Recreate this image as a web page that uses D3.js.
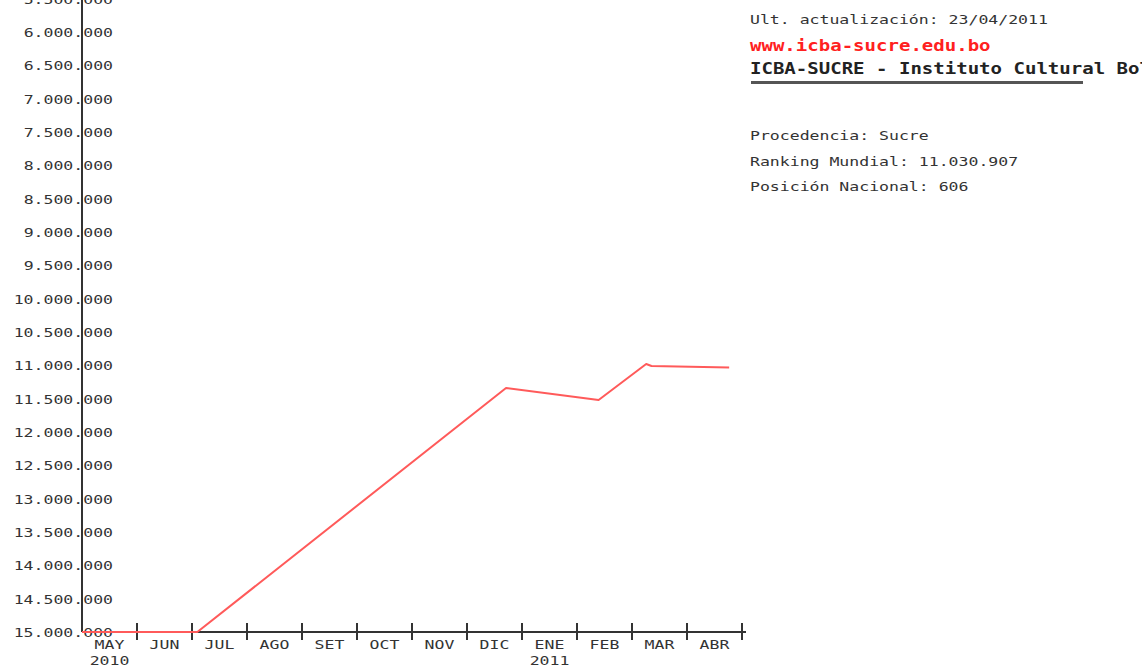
<!DOCTYPE html>
<html>
<head>
<meta charset="utf-8">
<script src="https://cdn.jsdelivr.net/npm/d3@7"></script>
<style>
  body { margin: 0; background: #fff; }
  svg { display: block; }
  text { font-family: "DejaVu Sans Mono", "Liberation Mono", monospace; }
</style>
</head>
<body>
<div id="chart"></div>
<script>
// ranking history, world position (lower is better, axis inverted)
const dates = ["2010-05-01", "2010-07-04", "2010-12-23", "2011-02-12", "2011-03-09", "2011-03-12", "2011-04-24"]
const ranks = [15000000, 15000000, 11340000, 11520000, 10980000, 11010000, 11030907]

const months = ["MAY", "JUN", "JUL", "AGO", "SET", "OCT", "NOV", "DIC", "ENE", "FEB", "MAR", "ABR"]
const years = ["2010", "", "", "", "", "", "", "", "2011", "", "", ""]
const yTicks = d3.range(5500000, 15000001, 500000)

const infoLines = ["Procedencia: Sucre", "Ranking Mundial: 11.030.907", "Posición Nacional: 606"]

const width = 1142, height = 668
const stretch = 1.27
const margin = {left: 82, top: 0, bottom: 632, right: 742}

const locale = d3.formatLocale({decimal: ",", thousands: ".", grouping: [3], currency: ["", ""]})
const fmt = locale.format(",d")

const start = new Date(2010, 4, 1)
const monthPos = d => {
  const m = d3.timeMonth.floor(d)
  const next = d3.timeMonth.offset(m, 1)
  return d3.timeMonth.count(start, m) + (d - m) / (next - m)
}

const x = d3.scaleLinear([0, 12], [margin.left, margin.right])
const y = d3.scaleLinear([6000000, 15000000], [32, 632])

const svg = d3.select("#chart").append("svg")
  .attr("width", width)
  .attr("height", height)

// stretched text helper: the original font is wide
const label = (g, tx, ty, str, anchor, opts = {}) => g.append("g")
    .attr("transform", `translate(${tx},${ty}) scale(${stretch},1)`)
  .append("text")
    .attr("text-anchor", anchor)
    .attr("font-size", opts.size || 13)
    .attr("font-weight", opts.weight || "normal")
    .attr("fill", opts.fill || "#333")
    .text(str)

// y labels
const yAxis = svg.append("g")
yTicks.forEach(v => label(yAxis, 113, y(v) + 5, fmt(v), "end"))

// x axis
const xAxis = svg.append("g")
xAxis.append("line")
  .attr("x1", margin.left).attr("x2", margin.right + 4)
  .attr("y1", y(15000000)).attr("y2", y(15000000))
  .attr("stroke", "#333").attr("stroke-width", 2)
xAxis.selectAll(".tick")
  .data(d3.range(1, 13))
  .join("line")
    .attr("x1", d => x(d)).attr("x2", d => x(d))
    .attr("y1", y(15000000) - 9).attr("y2", y(15000000) + 8)
    .attr("stroke", "#333").attr("stroke-width", 2)
months.forEach((m, i) => {
  label(xAxis, x(i + 0.5), 649, m, "middle")
  if (years[i]) label(xAxis, x(i + 0.5), 665, years[i], "middle")
})

// y axis line
svg.append("line")
  .attr("x1", margin.left).attr("x2", margin.left)
  .attr("y1", 0).attr("y2", y(15000000))
  .attr("stroke", "#333").attr("stroke-width", 2)

// series
const line = d3.line()
  .x((d, i) => x(monthPos(new Date(dates[i] + "T00:00:00"))))
  .y(d => y(d))

svg.append("path")
  .attr("d", line(ranks))
  .attr("fill", "none")
  .attr("stroke", "#ff5a5a")
  .attr("stroke-width", 2)
  .attr("stroke-linejoin", "round")

// header text
const info = svg.append("g")
label(info, 750, 24, "Ult. actualización: 23/04/2011", "start")
label(info, 750, 51, "www.icba-sucre.edu.bo", "start", {size: 15, weight: "bold", fill: "#ff2020"})
label(info, 750, 74, "ICBA-SUCRE - Instituto Cultural Boliviano Alemán", "start", {size: 15, weight: "bold", fill: "#222"})
info.append("rect")
  .attr("x", 751).attr("y", 81)
  .attr("width", 332).attr("height", 3)
  .attr("fill", "#555")
infoLines.forEach((t, i) => label(info, 750, 140 + i * 25.5, t, "start"))
</script>
</body>
</html>
